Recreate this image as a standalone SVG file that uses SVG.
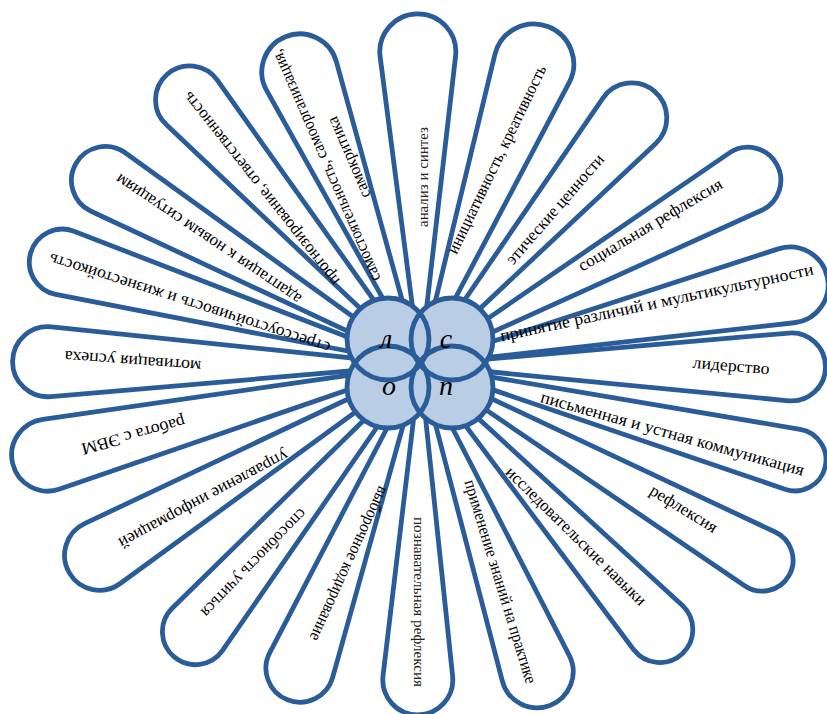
<svg xmlns="http://www.w3.org/2000/svg" width="827" height="714" viewBox="0 0 827 714">
<style>
.petal{fill:none;stroke:#2B5C9A;stroke-width:4.8;stroke-linejoin:round}
.t{font-family:"Liberation Serif","Times New Roman",serif;font-size:17px;fill:#000;text-anchor:middle}
.s{font-size:14px;fill:#222}
.cf{fill:#B9CDE5;stroke:none}
.cs{fill:none;stroke:#2B5C9A;stroke-width:4.8}
.l{font-family:"Liberation Serif","Times New Roman",serif;font-size:28px;font-style:italic;fill:#000;text-anchor:middle}
</style>
<rect width="827" height="714" fill="#fff"/>
<g id="petals">
<g id="p1"><path class="petal" transform="translate(420 365) rotate(-90.4)" d="M0 0L308.4 -37.7A38 38 0 1 1 308.4 37.7Z"/><text class="t s" transform="translate(424 177) rotate(-90)" y="4" textLength="100" lengthAdjust="spacingAndGlyphs">анализ и синтез</text></g>
<g id="p2"><path class="petal" transform="translate(420 365) rotate(-69.3)" d="M0 0L316.9 -39.7A40 40 0 1 1 316.9 39.7Z"/><text class="t" transform="translate(498 160) rotate(-64.2)" y="4" textLength="207" lengthAdjust="spacingAndGlyphs">инициативность, креативность</text></g>
<g id="p3"><path class="petal" transform="translate(420 365) rotate(-49.4)" d="M0 0L321.7 -34.8A35 35 0 1 1 321.7 34.8Z"/><text class="t" transform="translate(556 210) rotate(-49)" y="4" textLength="140" lengthAdjust="spacingAndGlyphs">этические ценности</text></g>
<g id="p4"><path class="petal" transform="translate(420 365) rotate(-29.4)" d="M0 0L373.7 -32.9A33 33 0 1 1 373.7 32.9Z"/><text class="t" transform="translate(651 226) rotate(-30.9)" y="4" textLength="165" lengthAdjust="spacingAndGlyphs">социальная рефлексия</text></g>
<g id="p5"><path class="petal" transform="translate(420 365) rotate(-12.2)" d="M0 0L374.8 -37.8A38 38 0 1 1 374.8 37.8Z"/><text class="t" transform="translate(657 304) rotate(-12.1)" y="4" textLength="320" lengthAdjust="spacingAndGlyphs">принятие различий и мультикультурности</text></g>
<g id="p6"><path class="petal" transform="translate(420 365) rotate(0.3)" d="M0 0L368.9 -33.9A34 34 0 1 1 368.9 33.9Z"/><text class="t" transform="translate(731 367) rotate(5)" y="4" textLength="77" lengthAdjust="spacingAndGlyphs">лидерство</text></g>
<g id="p7"><path class="petal" transform="translate(420 365) rotate(14.2)" d="M0 0L384.3 -30.9A31 31 0 1 1 384.3 30.9Z"/><text class="t" transform="translate(672 435) rotate(15.7)" y="4" textLength="273" lengthAdjust="spacingAndGlyphs">письменная и устная коммуникация</text></g>
<g id="p8"><path class="petal" transform="translate(420 365) rotate(29.7)" d="M0 0L391.3 -30.9A31 31 0 1 1 391.3 30.9Z"/><text class="t" transform="translate(683 510) rotate(31.6)" y="4" textLength="76" lengthAdjust="spacingAndGlyphs">рефлексия</text></g>
<g id="p9"><path class="petal" transform="translate(420 365) rotate(47.8)" d="M0 0L354.5 -32.9A33 33 0 1 1 354.5 32.9Z"/><text class="t" transform="translate(575 537) rotate(44.6)" y="4" textLength="190" lengthAdjust="spacingAndGlyphs">исследовательские навыки</text></g>
<g id="p10"><path class="petal" transform="translate(420 365) rotate(69.1)" d="M0 0L324.6 -35.8A36 36 0 1 1 324.6 35.8Z"/><text class="t" transform="translate(499 582) rotate(73)" y="4" textLength="212" lengthAdjust="spacingAndGlyphs">применение знаний на практике</text></g>
<g id="p11"><path class="petal" transform="translate(420 365) rotate(90.4)" d="M0 0L311.1 -34.8A35 35 0 1 1 311.1 34.8Z"/><text class="t s" transform="translate(418 602) rotate(90)" y="4" textLength="170" lengthAdjust="spacingAndGlyphs">познавательная рефлексия</text></g>
<g id="p12"><path class="petal" transform="translate(420 365) rotate(111.6)" d="M0 0L322.4 -33.8A34 34 0 1 1 322.4 33.8Z"/><text class="t" transform="translate(348 563) rotate(114.6)" y="4" textLength="168" lengthAdjust="spacingAndGlyphs">выборочное кодирование</text></g>
<g id="p13"><path class="petal" transform="translate(420 365) rotate(130.1)" d="M0 0L346.1 -32.9A33 33 0 1 1 346.1 32.9Z"/><text class="t" transform="translate(253 562) rotate(134)" y="4" textLength="144" lengthAdjust="spacingAndGlyphs">способность учиться</text></g>
<g id="p14"><path class="petal" transform="translate(420 365) rotate(149.3)" d="M0 0L368.9 -34.8A35 35 0 1 1 368.9 34.8Z"/><text class="t" transform="translate(203 498) rotate(151.7)" y="4" textLength="190" lengthAdjust="spacingAndGlyphs">управление информацией</text></g>
<g id="p15"><path class="petal" transform="translate(420 365) rotate(166.4)" d="M0 0L379.3 -35.8A36 36 0 1 1 379.3 35.8Z"/><text class="t" transform="translate(133 434) rotate(164.8)" y="4" textLength="107" lengthAdjust="spacingAndGlyphs">работа с ЭВМ</text></g>
<g id="p16"><path class="petal" transform="translate(420 365) rotate(180.5)" d="M0 0L368.7 -34.8A35 35 0 1 1 368.7 34.8Z"/><text class="t" transform="translate(133 360) rotate(184.2)" y="4" textLength="137" lengthAdjust="spacingAndGlyphs">мотивация успеха</text></g>
<g id="p17"><path class="petal" transform="translate(420 365) rotate(196.05)" d="M0 0L369.6 -32.9A33 33 0 1 1 369.6 32.9Z"/><text class="t" transform="translate(190 302) rotate(197.8)" y="4" textLength="294" lengthAdjust="spacingAndGlyphs">стрессоустойчивость и жизнестойкость</text></g>
<g id="p18"><path class="petal" transform="translate(420 365) rotate(210.4)" d="M0 0L362.1 -33.9A34 34 0 1 1 362.1 33.9Z"/><text class="t" transform="translate(209 238) rotate(214)" y="4" textLength="220" lengthAdjust="spacingAndGlyphs">адаптация к новым ситуациям</text></g>
<g id="p19"><path class="petal" transform="translate(420 365) rotate(229)" d="M0 0L347.6 -33.8A34 34 0 1 1 347.6 33.8Z"/><text class="t" transform="translate(262 188) rotate(231.7)" y="4" textLength="242" lengthAdjust="spacingAndGlyphs">прогнозирование, ответственность</text></g>
<g id="p20"><path class="petal" transform="translate(420 365) rotate(247.7)" d="M0 0L312 -37.7A38 38 0 1 1 312 37.7Z"/><text class="t" transform="translate(327 165) rotate(246.5)" y="4" textLength="251" lengthAdjust="spacingAndGlyphs">самостоятельность, самоорганизация,</text><text class="t" transform="translate(350 157) rotate(246.5)" y="4" textLength="87" lengthAdjust="spacingAndGlyphs">самокритика</text></g>
</g>
<g id="center">
<circle class="cf" cx="388" cy="339" r="41"/>
<circle class="cf" cx="452" cy="339" r="41"/>
<circle class="cf" cx="388" cy="387" r="41"/>
<circle class="cf" cx="452" cy="387" r="41"/>
<circle class="cs" cx="388" cy="339" r="41"/>
<circle class="cs" cx="452" cy="339" r="41"/>
<circle class="cs" cx="388" cy="387" r="41"/>
<circle class="cs" cx="452" cy="387" r="41"/>
<text class="l" x="386" y="348">л</text>
<text class="l" x="446" y="348">с</text>
<text class="l" x="389" y="395">о</text>
<text class="l" x="446" y="395">п</text>
</g>
</svg>
